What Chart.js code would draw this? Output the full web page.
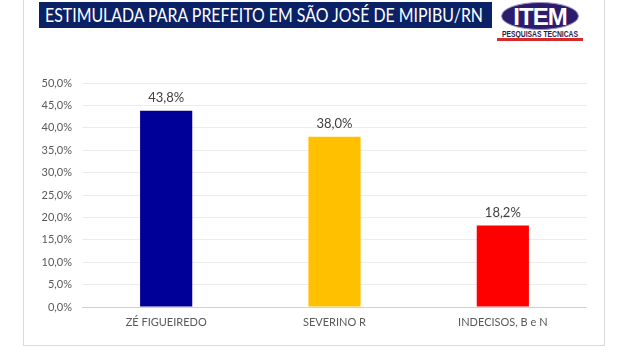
<html lang="pt">
  <head>
    <meta charset="UTF-8" />
    <title>Estimulada para prefeito</title>
    <style>
      body { margin: 0; background: #fff; width: 630px; height: 360px; overflow: hidden; position: relative; font-family: Lato, "Open Sans", sans-serif; }
      #frame { position: absolute; left: 23px; top: -2px; width: 580px; height: 346px; border: 1px solid #d9d9d9; }
      #title { position: absolute; left: 39px; top: 2px; width: 453px; height: 26px; background: #0b2165; color: #fff;
               font-size: 19px; line-height: 26px; white-space: nowrap; overflow: hidden; }
      #title span { display: inline-block; position: absolute; left: 6px; top: 0; transform-origin: 0 50%; }
      #logo { position: absolute; left: 497px; top: 1px; width: 86px; height: 40px; }
      #oval { position: absolute; left: 4px; top: 1px; width: 78px; height: 28px; border-radius: 50%; background: #2b1c6e;
              border: 1px solid #9a94c0; box-sizing: border-box; color: #fff; font: 900 24px/27px "Liberation Sans", Arial, sans-serif;
              text-align: center; letter-spacing: -1px; }
      #sub { position: absolute; left: 5px; top: 29px; white-space: nowrap; font: bold 9px/9px "Liberation Sans", sans-serif;
             color: #2b1c4e; transform-origin: 0 0; }
      #line { position: absolute; left: 0; top: 37px; width: 86px; height: 3px; background: #d62b2b; }
      #wrap { position: absolute; left: 24px; top: 60px; width: 580px; height: 284px; }
    </style>
  </head>
  <body>
    <div id="frame"></div>
    <div id="title"><span id="titulo">ESTIMULADA PARA PREFEITO EM SÃO JOSÉ DE MIPIBU/RN</span></div>
    <div id="logo">
      <div id="oval">ITEM</div>
      <div id="sub">PESQUISAS TECNICAS</div>
      <div id="line"></div>
    </div>
    <div id="wrap"><canvas id="myChart" width="580" height="284"></canvas></div>
    <script src="https://cdn.jsdelivr.net/npm/chart.js@4.4.0/dist/chart.umd.min.js"></script>
    <script>
        var candidatos = ['ZÉ FIGUEIREDO', 'SEVERINO R', 'INDECISOS, B e N'];
        var percentuais = [43.8, 38.0, 18.2];
        var cores = ['#000099', '#ffc000', '#ff0000'];

        // encaixa os textos na largura da imagem original
        function encaixa(id, largura) {
            var el = document.getElementById(id);
            var w = el.getBoundingClientRect().width;
            el.style.transform = 'scaleX(' + (largura / w) + ')';
        }
        encaixa('titulo', 438);
        encaixa('sub', 76);

        function pct(v) {
            return v.toFixed(1).replace('.', ',') + '%';
        }

        // rotulos em cima das barras
        var rotulos = {
            id: 'rotulos',
            afterDatasetsDraw: function (chart) {
                var ctx = chart.ctx;
                var meta = chart.getDatasetMeta(0);
                ctx.save();
                ctx.font = '13px Lato, sans-serif';
                ctx.fillStyle = '#404040';
                ctx.textAlign = 'center';
                ctx.textBaseline = 'bottom';
                meta.data.forEach(function (bar, i) {
                    ctx.fillText(pct(percentuais[i]), bar.x, bar.y - 6);
                });
                ctx.restore();
            }
        };

        var ctx = document.getElementById('myChart').getContext('2d');
        var grafico = new Chart(ctx, {
            type: 'bar',
            data: {
                labels: candidatos,
                datasets: [{
                    data: percentuais,
                    backgroundColor: cores,
                    borderWidth: 0,
                    categoryPercentage: 1,
                    barPercentage: 0.31
                }]
            },
            options: {
                responsive: false,
                animation: false,
                layout: { padding: { top: 23, right: 17, left: 0, bottom: 0 } },
                plugins: { legend: { display: false }, tooltip: { enabled: false } },
                scales: {
                    y: {
                        min: 0,
                        max: 50,
                        ticks: {
                            stepSize: 5,
                            padding: 10,
                            color: '#595959',
                            font: { family: 'Lato', size: 11 },
                            callback: function (v) { return pct(v); }
                        },
                        grid: {
                            drawTicks: false,
                            color: function (c) { return c.tick && c.tick.value === 0 ? '#d0d0d0' : '#ececec'; }
                        },
                        border: { display: false },
                        afterFit: function (s) { s.width = 58; }
                    },
                    x: {
                        ticks: {
                            padding: 9,
                            color: '#595959',
                            font: { family: 'Lato', size: 11 }
                        },
                        grid: { display: false, drawTicks: false },
                        border: { display: false },
                        afterFit: function (s) { s.height = 37; }
                    }
                }
            },
            plugins: [rotulos]
        });
    </script>
  </body>
</html>
